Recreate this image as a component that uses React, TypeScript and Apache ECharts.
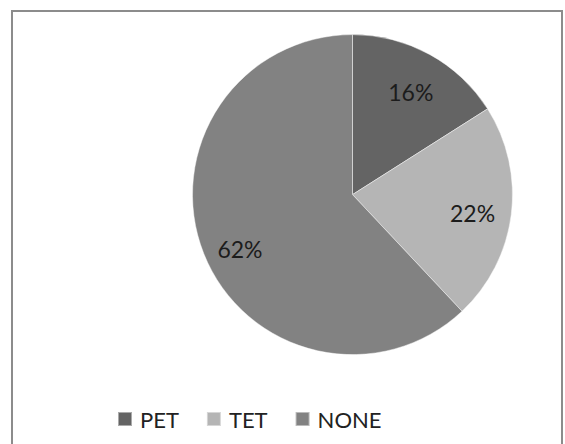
import React, { useEffect, useRef } from "react";
import * as echarts from "echarts";

const categories = ["PET", "TET", "NONE"];
const values = [16, 22, 62];
const colors = ["#646464", "#b5b5b5", "#828282"];

export default function App() {
  const ref = useRef<HTMLDivElement>(null);
  useEffect(() => {
    if (!ref.current) return;
    const chart = echarts.init(ref.current, null, { renderer: "svg" });
    const data = categories.map((name, i) => ({ name, value: values[i], itemStyle: { color: colors[i] } }));
    chart.setOption({
      animation: false,
      backgroundColor: "#ffffff",
      graphic: [
        {
          type: "rect",
          shape: { x: 12, y: 11, width: 550, height: 440 },
          style: { fill: "none", stroke: "#8c8c8c", lineWidth: 2 },
          silent: true,
        },
      ],
      legend: {
        data: categories.map((name, i) => ({ name, itemStyle: { color: colors[i] } })),
        left: 112,
        top: 403,
        itemWidth: 14,
        itemHeight: 14,
        itemGap: 27,
        icon: "rect",
        selectedMode: false,
        textStyle: { fontFamily: "Lato", fontSize: 22, color: "#222", padding: [0, 0, 0, 3] },
      },
      series: [
        {
          type: "pie",
          center: [352.5, 194.6],
          radius: [0, 160],
          startAngle: 90,
          data,
          silent: true,
          label: { show: false },
          labelLine: { show: false },
          itemStyle: { borderColor: "rgba(255,255,255,0.45)", borderWidth: 1 },
        },
        {
          type: "pie",
          center: [352.5, 194.6],
          radius: [76, 160],
          startAngle: 90,
          data: categories.map((name, i) => ({ name, value: values[i] })),
          silent: true,
          z: 3,
          itemStyle: { color: "rgba(0,0,0,0)", borderWidth: 0 },
          label: {
            show: true,
            position: "inside",
            formatter: "{c}%",
            fontFamily: "Lato",
            fontSize: 23,
            color: "#1c1c1c",
          },
          labelLine: { show: false },
          labelLayout: (p: any) => (p.dataIndex === 2 ? { dy: 10 } : { dy: 3 }),
        },
      ],
    });
    return () => chart.dispose();
  }, []);
  return <div ref={ref} style={{ position: "fixed", left: 0, top: 0, width: 565, height: 444 }} />;
}
